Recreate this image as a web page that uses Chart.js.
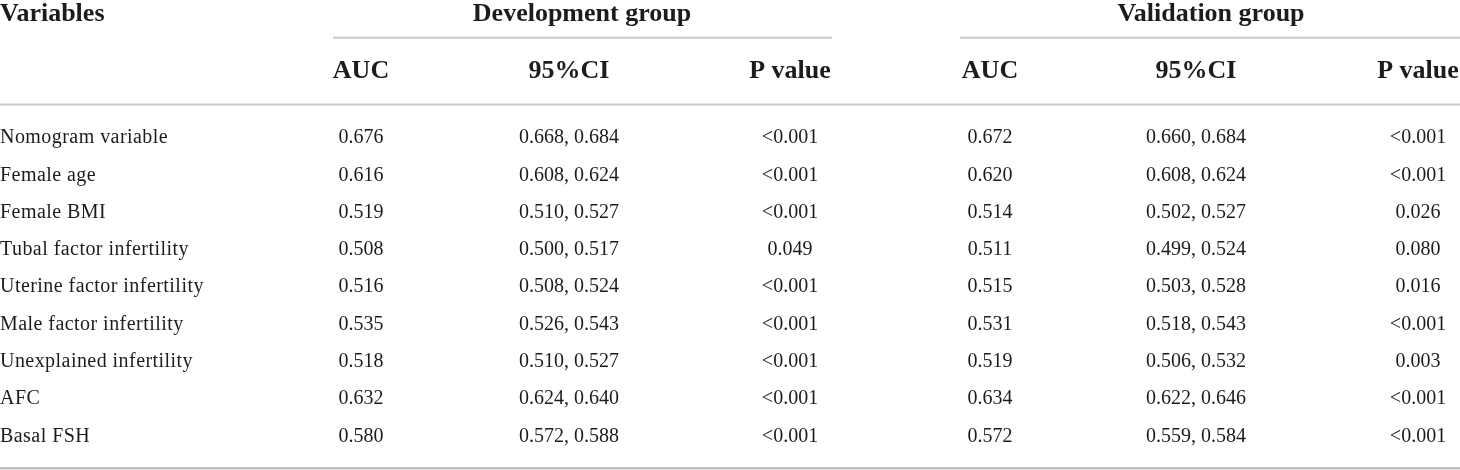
<!DOCTYPE html>
<html>
<head>
<meta charset="utf-8">
<script src="https://cdn.jsdelivr.net/npm/chart.js@4/dist/chart.umd.min.js"></script>
<style>
  html, body { margin: 0; padding: 0; background: #ffffff; }
  #wrap { width: 1460px; height: 470px; position: relative; }
</style>
</head>
<body>
<div id="wrap"><canvas id="c"></canvas></div>
<script>
// ---------- data ----------
const stubHeader = 'Variables';
const groupTitles = ['Development group', 'Validation group'];
const columnHeaders = ['AUC', '95%CI', 'P value'];

const variables = [
  'Nomogram variable', 'Female age', 'Female BMI', 'Tubal factor infertility',
  'Uterine factor infertility', 'Male factor infertility', 'Unexplained infertility',
  'AFC', 'Basal FSH'
];

const devAUC    = [0.676, 0.616, 0.519, 0.508, 0.516, 0.535, 0.518, 0.632, 0.580];
const devCILow  = [0.668, 0.608, 0.510, 0.500, 0.508, 0.526, 0.510, 0.624, 0.572];
const devCIHigh = [0.684, 0.624, 0.527, 0.517, 0.524, 0.543, 0.527, 0.640, 0.588];
const devP      = ['<0.001', '<0.001', '<0.001', '0.049', '<0.001', '<0.001', '<0.001', '<0.001', '<0.001'];

const valAUC    = [0.672, 0.620, 0.514, 0.511, 0.515, 0.531, 0.519, 0.634, 0.572];
const valCILow  = [0.660, 0.608, 0.502, 0.499, 0.503, 0.518, 0.506, 0.622, 0.559];
const valCIHigh = [0.684, 0.624, 0.527, 0.524, 0.528, 0.543, 0.532, 0.646, 0.584];
const valP      = ['<0.001', '<0.001', '0.026', '0.080', '0.016', '<0.001', '0.003', '<0.001', '<0.001'];

// ---------- layout (table geometry, in scale units) ----------
const f3 = v => v.toFixed(3);
const ci = (lo, hi) => lo.map((v, i) => f3(v) + ', ' + f3(hi[i]));

const columns = [
  { x: 0,    align: 'left',   spacing: '0.45px', cells: variables },
  { x: 361,  align: 'center', spacing: '0px', cells: devAUC.map(f3) },
  { x: 569,  align: 'center', spacing: '0px', cells: ci(devCILow, devCIHigh) },
  { x: 790,  align: 'center', spacing: '0px', cells: devP },
  { x: 990,  align: 'center', spacing: '0px', cells: valAUC.map(f3) },
  { x: 1196, align: 'center', spacing: '0px', cells: ci(valCILow, valCIHigh) },
  { x: 1418, align: 'center', spacing: '0px', cells: valP }
];
const groups = [
  { title: groupTitles[0], center: 582,  from: 333, to: 832 },
  { title: groupTitles[1], center: 1211, from: 960, to: 1460 }
];
// row units: baseline of data row i is at value i
const ROW_TITLE = -3.29, ROW_SUB = -1.75, RULE_GROUP = -2.84, RULE_HEAD = -1.05, RULE_BOTTOM = 8.72;

const TEXT = '#1e1b1c';
const BODY_FONT = '20px "Liberation Serif", "Times New Roman", serif';
const HEAD_FONT = 'bold 26px "Liberation Serif", "Times New Roman", serif';

const tablePlugin = {
  id: 'tablePlugin',
  afterDraw(chart) {
    const ctx = chart.ctx;
    const xs = chart.scales.x, ys = chart.scales.y;
    const X = v => xs.getPixelForValue(v);
    const Y = v => ys.getPixelForValue(v);
    ctx.save();
    ctx.textBaseline = 'alphabetic';

    // rules
    const rule = (x0, x1, yv, color, w) => {
      ctx.beginPath();
      ctx.strokeStyle = color;
      ctx.lineWidth = w;
      ctx.moveTo(X(x0), Y(yv));
      ctx.lineTo(X(x1), Y(yv));
      ctx.stroke();
    };
    groups.forEach(g => rule(g.from, g.to, RULE_GROUP, '#c9c9c9', 2));
    rule(0, 1460, RULE_HEAD, '#c9c9c9', 2);
    rule(0, 1460, RULE_BOTTOM, '#b4b4b4', 2);

    // headers
    ctx.fillStyle = TEXT;
    ctx.font = HEAD_FONT;
    ctx.textAlign = 'left';
    ctx.fillText(stubHeader, X(0), Y(ROW_TITLE));
    ctx.textAlign = 'center';
    groups.forEach(g => ctx.fillText(g.title, X(g.center), Y(ROW_TITLE)));
    columns.slice(1).forEach((c, i) => {
      ctx.fillText(columnHeaders[i % 3], X(c.x), Y(ROW_SUB));
    });

    // body cells
    ctx.font = BODY_FONT;
    columns.forEach(c => {
      ctx.textAlign = c.align;
      if ('letterSpacing' in ctx) ctx.letterSpacing = c.spacing;
      c.cells.forEach((t, i) => ctx.fillText(t, X(c.x), Y(i)));
    });
    if ('letterSpacing' in ctx) ctx.letterSpacing = '0px';
    ctx.restore();
  }
};

new Chart(document.getElementById('c'), {
  type: 'scatter',
  data: { datasets: [{ data: [], pointRadius: 0 }] },
  options: {
    responsive: true,
    maintainAspectRatio: false,
    animation: false,
    layout: { padding: 0 },
    plugins: { legend: { display: false }, tooltip: { enabled: false } },
    scales: {
      x: { type: 'linear', min: 0, max: 1460, display: false },
      y: { type: 'linear', min: -3.852, max: 8.765, reverse: true, display: false }
    }
  },
  plugins: [tablePlugin]
});
</script>
</body>
</html>
